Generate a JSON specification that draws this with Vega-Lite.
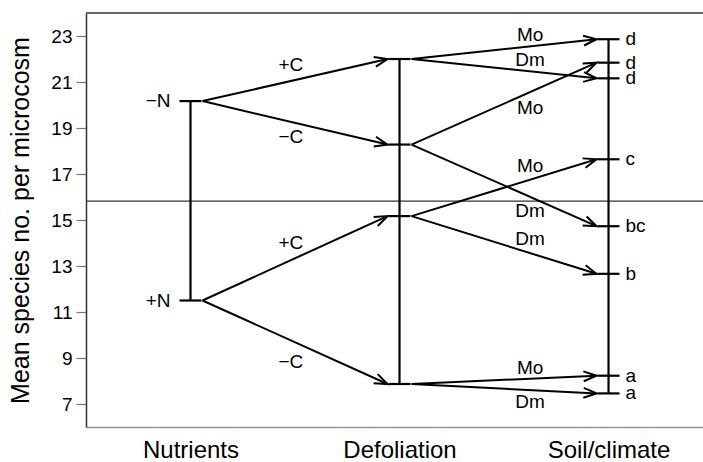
{
  "$schema": "https://vega.github.io/schema/vega-lite/v6.json",
  "width": 617,
  "height": 414,
  "autosize": "none",
  "padding": {"left": 86, "top": 13, "right": 0, "bottom": 35},
  "background": "white",
  "config": {
    "view": {"stroke": null},
    "font": "Liberation Sans",
    "axis": {"grid": false}
  },
  "datasets": {
    "nodes": [
      {"stage": 1, "mean": 20.17, "label": "−N"},
      {"stage": 1, "mean": 11.5, "label": "+N"},
      {"stage": 2, "mean": 22.0, "label": ""},
      {"stage": 2, "mean": 18.28, "label": ""},
      {"stage": 2, "mean": 15.17, "label": ""},
      {"stage": 2, "mean": 7.87, "label": ""},
      {"stage": 3, "mean": 22.86, "label": "d"},
      {"stage": 3, "mean": 21.84, "label": "d"},
      {"stage": 3, "mean": 21.16, "label": "d"},
      {"stage": 3, "mean": 17.64, "label": "c"},
      {"stage": 3, "mean": 14.73, "label": "bc"},
      {"stage": 3, "mean": 12.66, "label": "b"},
      {"stage": 3, "mean": 8.23, "label": "a"},
      {"stage": 3, "mean": 7.46, "label": "a"}
    ],
    "arrows": [
      {"from": 1, "to": 2, "y0": 20.17, "y1": 22.0},
      {"from": 1, "to": 2, "y0": 20.17, "y1": 18.28},
      {"from": 1, "to": 2, "y0": 11.5, "y1": 15.17},
      {"from": 1, "to": 2, "y0": 11.5, "y1": 7.87},
      {"from": 2, "to": 3, "y0": 22.0, "y1": 22.86},
      {"from": 2, "to": 3, "y0": 22.0, "y1": 21.16},
      {"from": 2, "to": 3, "y0": 18.28, "y1": 21.84},
      {"from": 2, "to": 3, "y0": 18.28, "y1": 14.73},
      {"from": 2, "to": 3, "y0": 15.17, "y1": 17.64},
      {"from": 2, "to": 3, "y0": 15.17, "y1": 12.66},
      {"from": 2, "to": 3, "y0": 7.87, "y1": 8.23},
      {"from": 2, "to": 3, "y0": 7.87, "y1": 7.46}
    ],
    "arrowLabels": [
      {"text": "+C", "x": 1.48, "y": 21.74},
      {"text": "−C", "x": 1.48, "y": 18.61},
      {"text": "+C", "x": 1.48, "y": 14.01},
      {"text": "−C", "x": 1.48, "y": 8.81},
      {"text": "Mo", "x": 2.625, "y": 23.05},
      {"text": "Dm", "x": 2.625, "y": 21.95},
      {"text": "Mo", "x": 2.625, "y": 19.85},
      {"text": "Mo", "x": 2.625, "y": 17.35},
      {"text": "Dm", "x": 2.625, "y": 15.37},
      {"text": "Dm", "x": 2.625, "y": 14.18},
      {"text": "Mo", "x": 2.625, "y": 8.55},
      {"text": "Dm", "x": 2.625, "y": 7.1}
    ]
  },
  "layer": [
    {
      "data": {"values": [{"top": 24}]},
      "mark": {"type": "rule", "color": "#333333", "strokeWidth": 1.3},
      "encoding": {
        "y": {
          "field": "top",
          "type": "quantitative",
          "scale": {"domain": [6, 24], "nice": false, "zero": false},
          "axis": {
            "values": [7, 9, 11, 13, 15, 17, 19, 21, 23],
            "title": "Mean species no. per microcosm",
            "titleFontSize": 25,
            "titleFontWeight": "normal",
            "titleColor": "black",
            "titleX": -66,
            "titleY": 207,
            "titleAngle": -90,
            "titleAlign": "center",
            "titleBaseline": "middle",
            "labelFontSize": 19,
            "labelColor": "black",
            "labelPadding": 4,
            "tickSize": 10,
            "tickColor": "#777777",
            "tickWidth": 1.2,
            "domainColor": "#333333",
            "domainWidth": 1.5
          }
        }
      }
    },
    {
      "data": {"values": [{"grand": 15.82}]},
      "mark": {"type": "rule", "color": "#333333", "strokeWidth": 1.2},
      "encoding": {"y": {"field": "grand", "type": "quantitative"}}
    },
    {
      "data": {"name": "nodes"},
      "transform": [
        {"aggregate": [{"op": "min", "field": "mean", "as": "lo"}, {"op": "max", "field": "mean", "as": "hi"}], "groupby": ["stage"]}
      ],
      "mark": {"type": "rule", "color": "black", "strokeWidth": 2.2},
      "encoding": {
        "x": {
          "field": "stage",
          "type": "quantitative",
          "scale": {"domain": [0.5, 3.452], "nice": false, "zero": false},
          "axis": {
            "values": [1, 2, 3],
            "title": null,
            "labelExpr": "datum.value == 1 ? 'Nutrients' : datum.value == 2 ? 'Defoliation' : 'Soil/climate'",
            "labelFontSize": 24,
            "labelColor": "black",
            "labelBaseline": "alphabetic",
            "labelPadding": 30,
            "ticks": false,
            "domainColor": "#999999",
            "domainWidth": 1.5
          }
        },
        "y": {"field": "lo", "type": "quantitative"},
        "y2": {"field": "hi"}
      }
    },
    {
      "data": {"name": "nodes"},
      "mark": {"type": "tick", "orient": "horizontal", "size": 22, "thickness": 2.2, "color": "black", "opacity": 1},
      "encoding": {
        "x": {"field": "stage", "type": "quantitative"},
        "y": {"field": "mean", "type": "quantitative"}
      }
    },
    {
      "data": {"name": "arrows"},
      "mark": {"type": "rule", "color": "black", "strokeWidth": 2, "xOffset": 12, "x2Offset": -12},
      "encoding": {
        "x": {"field": "from", "type": "quantitative"},
        "x2": {"field": "to"},
        "y": {"field": "y0", "type": "quantitative"},
        "y2": {"field": "y1"}
      }
    },
    {
      "data": {"name": "arrows"},
      "transform": [
        {"calculate": "-atan2((datum.y1 - datum.y0) * 23, 185) * 180 / PI", "as": "ang"}
      ],
      "mark": {
        "type": "point",
        "shape": "M-1,-0.38L0,0L-1,0.38",
        "filled": false,
        "color": "black",
        "strokeWidth": 2,
        "size": 676,
        "opacity": 1,
        "xOffset": -12
      },
      "encoding": {
        "x": {"field": "to", "type": "quantitative"},
        "y": {"field": "y1", "type": "quantitative"},
        "angle": {"field": "ang", "type": "quantitative", "scale": null}
      }
    },
    {
      "data": {"name": "nodes"},
      "transform": [{"filter": "datum.stage == 1"}],
      "mark": {"type": "text", "align": "right", "baseline": "middle", "dx": -20, "fontSize": 19, "color": "black"},
      "encoding": {
        "x": {"field": "stage", "type": "quantitative"},
        "y": {"field": "mean", "type": "quantitative"},
        "text": {"field": "label"}
      }
    },
    {
      "data": {"name": "nodes"},
      "transform": [{"filter": "datum.stage == 3"}],
      "mark": {"type": "text", "align": "left", "baseline": "middle", "dx": 17, "fontSize": 19, "color": "black"},
      "encoding": {
        "x": {"field": "stage", "type": "quantitative"},
        "y": {"field": "mean", "type": "quantitative"},
        "text": {"field": "label"}
      }
    },
    {
      "data": {"name": "arrowLabels"},
      "mark": {"type": "text", "align": "center", "baseline": "middle", "fontSize": 19, "color": "black"},
      "encoding": {
        "x": {"field": "x", "type": "quantitative"},
        "y": {"field": "y", "type": "quantitative"},
        "text": {"field": "text"}
      }
    }
  ]
}
